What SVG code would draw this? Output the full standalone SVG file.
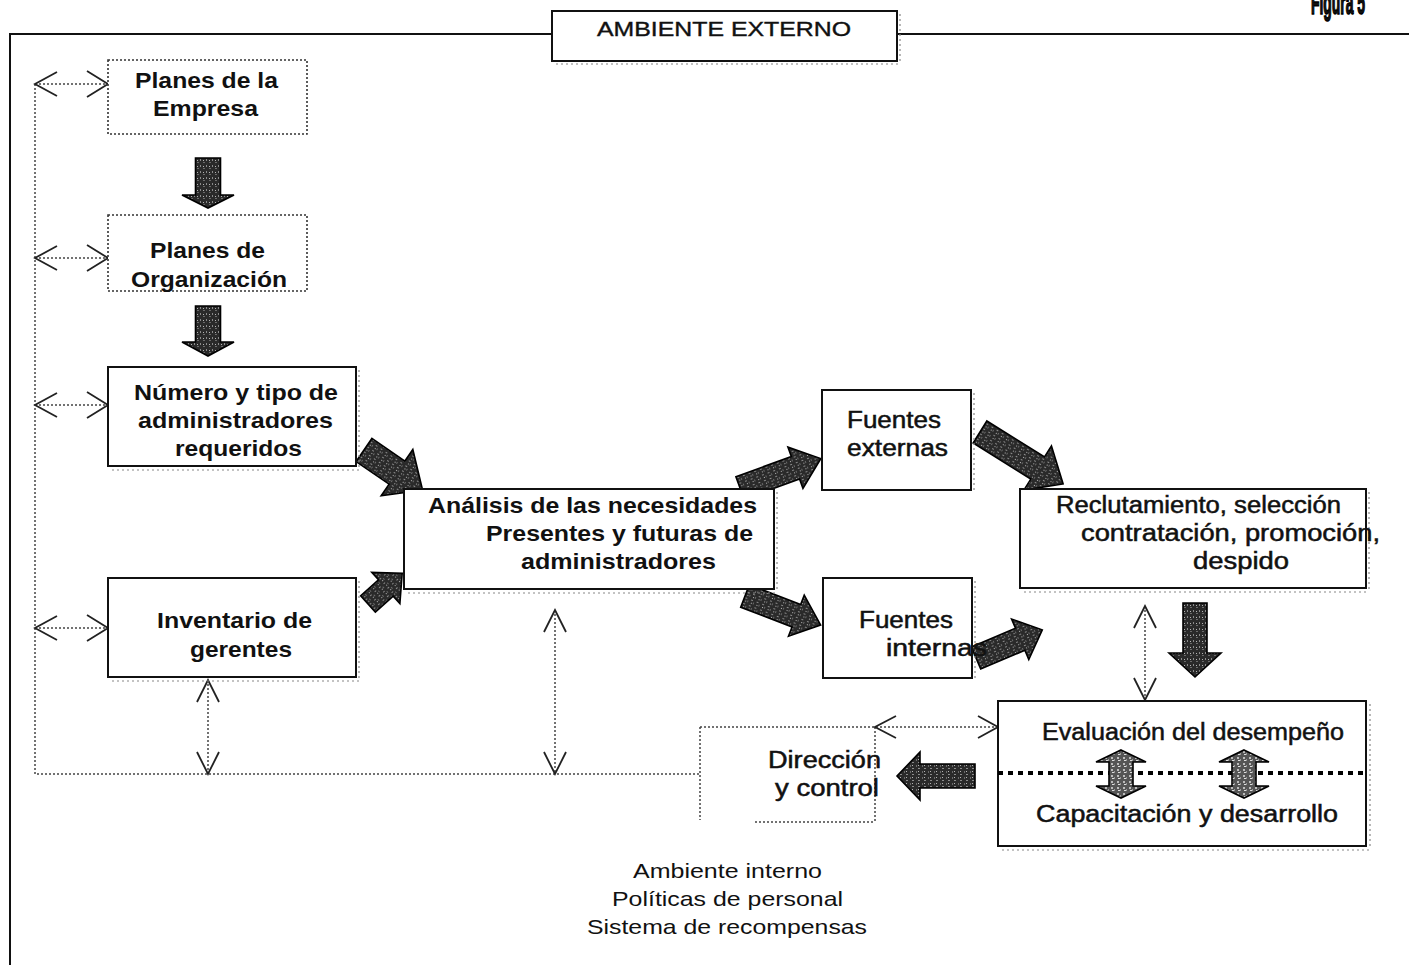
<svg xmlns="http://www.w3.org/2000/svg" width="1409" height="965" viewBox="0 0 1409 965">
  <style>
    .frame { fill: none; stroke: #111; stroke-width: 2; }
    .box { fill: #fff; stroke: #111; stroke-width: 2; }
    .dbox { fill: #fff; stroke: #333; stroke-width: 1.6; stroke-dasharray: 2 2; }
    .shade { fill: none; stroke: #888; stroke-width: 1.2; stroke-dasharray: 2 3; }
    .dot { fill: none; stroke: #444; stroke-width: 1.5; stroke-dasharray: 2 2; }
    .chev { fill: none; stroke: #222; stroke-width: 1.8; stroke-linejoin: miter; }
    .fat { fill: url(#grain); stroke: #000; stroke-width: 1.6; stroke-linejoin: miter; }
    .fat2 { fill: url(#grain2); stroke: #000; stroke-width: 1.6; stroke-linejoin: miter; }
    .sep { fill: none; stroke: #000; stroke-width: 4; stroke-dasharray: 5 5; }
    text { font-family: "Liberation Sans", Arial, sans-serif; fill: #111; }
    .b { font-size: 22px; font-weight: bold; }
    .r { font-size: 23px; font-weight: normal; stroke: #111; stroke-width: 0.5; }
    .s { font-size: 21px; font-weight: normal; }
    .hd { stroke: #111; stroke-width: 0.4; }
    .fig { font-size: 34px; font-weight: bold; stroke: #000; stroke-width: 1.6; }
  </style>
  <defs>
    <!-- mottled dark fill used for the block arrows -->
    <pattern id="grain" width="6" height="6" patternUnits="userSpaceOnUse">
      <rect width="6" height="6" fill="#2a2a2a"/>
      <rect x="1" y="1" width="2" height="1" fill="#8a8a8a"/>
      <rect x="4" y="3" width="1" height="2" fill="#6a6a6a"/>
      <rect x="2" y="4" width="1" height="1" fill="#b5b5b5"/>
    </pattern>
    <pattern id="grain2" width="6" height="6" patternUnits="userSpaceOnUse">
      <rect width="6" height="6" fill="#555"/>
      <rect x="1" y="1" width="2" height="2" fill="#bbb"/>
      <rect x="4" y="3" width="1" height="2" fill="#999"/>
      <rect x="2" y="4" width="2" height="1" fill="#ddd"/>
    </pattern>
  </defs>

  <rect width="1409" height="965" fill="#fff"/>

  <!-- outer frame of the external environment -->
  <g id="frame">
    <path class="frame" d="M10,965 V34 H552 M897,34 H1409"/>
  </g>

  <g id="figura">
    <text class="fig" x="1311" y="14" textLength="54" lengthAdjust="spacingAndGlyphs">Figura 5</text>
  </g>

  <g id="ambiente-externo">
    <path class="shade" d="M900,14 V63 M556,64 H900"/>
    <rect class="box" x="552" y="11" width="345" height="50"/>
    <text class="s hd" x="597" y="36" textLength="254" lengthAdjust="spacingAndGlyphs">AMBIENTE EXTERNO</text>
  </g>

  <!-- dotted feedback connectors -->
  <g id="connectors">
    <path class="dot" d="M35,84 V774 H700 M700,727 V820 M700,727 H998 M875,727 V822 M755,822 H875"/>
    <path class="dot" d="M35,84 H108 M35,258 H108 M35,405 H108 M35,628 H108"/>
    <path class="dot" d="M208,680 V774 M555,610 V774 M1145,606 V700"/>
    <!-- chevron heads -->
    <path class="chev" d="M57,72 L35,84 L57,96 M87,71 L108,84 L87,97"/>
    <path class="chev" d="M57,246 L35,258 L57,270 M87,245 L108,258 L87,271"/>
    <path class="chev" d="M57,393 L35,405 L57,417 M87,392 L108,405 L87,418"/>
    <path class="chev" d="M57,616 L35,628 L57,640 M87,615 L108,628 L87,641"/>
    <path class="chev" d="M197,702 L208,680 L219,702 M197,752 L208,774 L219,752"/>
    <path class="chev" d="M544,632 L555,610 L566,632 M544,752 L555,774 L566,752"/>
    <path class="chev" d="M1134,628 L1145,606 L1156,628 M1134,678 L1145,700 L1156,678"/>
    <path class="chev" d="M896,716 L875,727 L896,738 M978,716 L998,727 L978,738"/>

    <!-- block arrows -->
    <path class="fat" transform="translate(208,158) rotate(90)" d="M0,-12.5 H37 V-26 L50,0 L37,26 V12.5 H0 Z"/>
    <path class="fat" transform="translate(208,306) rotate(90)" d="M0,-12.5 H36 V-26 L50,0 L36,26 V12.5 H0 Z"/>
    <path class="fat" transform="translate(364,450) rotate(34.4)" d="M0,-14 H40 V-28 L71,0 L40,28 V14 H0 Z"/>
    <path class="fat" transform="translate(368,604) rotate(-42)" d="M0,-11 H24 V-21 L46,0 L24,21 V11 H0 Z"/>
    <path class="fat" transform="translate(740,488) rotate(-20)" d="M0,-12 H59 V-22 L86,0 L59,22 V12 H0 Z"/>
    <path class="fat" transform="translate(745,596) rotate(21)" d="M0,-12 H55 V-22 L81,0 L55,22 V12 H0 Z"/>
    <path class="fat" transform="translate(980,432) rotate(32)" d="M0,-13 H68 V-26 L98,0 L68,26 V13 H0 Z"/>
    <path class="fat" transform="translate(976,658) rotate(-23)" d="M0,-12 H48 V-22 L72,0 L48,22 V12 H0 Z"/>
    <path class="fat" transform="translate(1195,603) rotate(90)" d="M0,-12 H50 V-26 L74,0 L50,26 V12 H0 Z"/>
    <path class="fat" transform="translate(975,776) rotate(180)" d="M0,-12 H55 V-24 L78,0 L55,24 V12 H0 Z"/>
  </g>

  <g id="planes-empresa">
    <rect class="dbox" x="108" y="60" width="199" height="74"/>
    <text class="b" x="135" y="88" textLength="143" lengthAdjust="spacingAndGlyphs">Planes de la</text>
    <text class="b" x="153" y="116" textLength="105" lengthAdjust="spacingAndGlyphs">Empresa</text>
  </g>

  <g id="planes-organizacion">
    <rect class="dbox" x="108" y="215" width="199" height="76"/>
    <text class="b" x="150" y="258" textLength="115" lengthAdjust="spacingAndGlyphs">Planes de</text>
    <text class="b" x="131" y="287" textLength="156" lengthAdjust="spacingAndGlyphs">Organización</text>
  </g>

  <g id="numero-tipo">
    <path class="shade" d="M359,370 V470 M112,470 H359"/>
    <rect class="box" x="108" y="367" width="248" height="99"/>
    <text class="b" x="134" y="400" textLength="204" lengthAdjust="spacingAndGlyphs">Número y tipo de</text>
    <text class="b" x="138" y="428" textLength="195" lengthAdjust="spacingAndGlyphs">administradores</text>
    <text class="b" x="175" y="456" textLength="127" lengthAdjust="spacingAndGlyphs">requeridos</text>
  </g>

  <g id="inventario">
    <path class="shade" d="M359,581 V681 M112,681 H359"/>
    <rect class="box" x="108" y="578" width="248" height="99"/>
    <text class="b" x="157" y="628" textLength="155" lengthAdjust="spacingAndGlyphs">Inventario de</text>
    <text class="b" x="190" y="657" textLength="102" lengthAdjust="spacingAndGlyphs">gerentes</text>
  </g>

  <g id="analisis">
    <path class="shade" d="M777,492 V592 M408,593 H777"/>
    <rect class="box" x="404" y="489" width="370" height="100"/>
    <text class="b" x="428" y="513" textLength="329" lengthAdjust="spacingAndGlyphs">Análisis de las necesidades</text>
    <text class="b" x="486" y="541" textLength="267" lengthAdjust="spacingAndGlyphs">Presentes y futuras de</text>
    <text class="b" x="521" y="569" textLength="195" lengthAdjust="spacingAndGlyphs">administradores</text>
  </g>

  <g id="fuentes-externas">
    <path class="shade" d="M974,393 V492"/>
    <rect class="box" x="822" y="390" width="149" height="100"/>
    <text class="r" x="847" y="428" textLength="94" lengthAdjust="spacingAndGlyphs">Fuentes</text>
    <text class="r" x="847" y="456" textLength="101" lengthAdjust="spacingAndGlyphs">externas</text>
  </g>

  <g id="fuentes-internas">
    <path class="shade" d="M975,581 V680"/>
    <rect class="box" x="823" y="578" width="149" height="100"/>
    <text class="r" x="859" y="628" textLength="94" lengthAdjust="spacingAndGlyphs">Fuentes</text>
    <text class="r" x="886" y="656" textLength="101" lengthAdjust="spacingAndGlyphs">internas</text>
  </g>

  <g id="reclutamiento">
    <path class="shade" d="M1369,492 V592 M1024,592 H1369"/>
    <rect class="box" x="1020" y="489" width="346" height="99"/>
    <text class="r" x="1056" y="513" textLength="285" lengthAdjust="spacingAndGlyphs">Reclutamiento, selección</text>
    <text class="r" x="1081" y="541" textLength="299" lengthAdjust="spacingAndGlyphs">contratación, promoción,</text>
    <text class="r" x="1193" y="569" textLength="96" lengthAdjust="spacingAndGlyphs">despido</text>
  </g>

  <g id="evaluacion">
    <path class="shade" d="M1370,704 V849 M1002,850 H1370"/>
    <rect class="box" x="998" y="701" width="368" height="145"/>
    <path class="sep" d="M998,773 H1367"/>
    <path class="fat2" d="M1121,750 L1146,762 H1133 V786 H1146 L1121,798 L1096,786 H1109 V762 H1096 Z"/>
    <path class="fat2" d="M1244,750 L1269,762 H1256 V786 H1269 L1244,798 L1219,786 H1232 V762 H1219 Z"/>
    <text class="r" x="1042" y="740" textLength="302" lengthAdjust="spacingAndGlyphs">Evaluación del desempeño</text>
    <text class="r" x="1036" y="822" textLength="302" lengthAdjust="spacingAndGlyphs">Capacitación y desarrollo</text>
  </g>

  <g id="direccion">
    <text class="r" x="768" y="768" textLength="113" lengthAdjust="spacingAndGlyphs">Dirección</text>
    <text class="r" x="775" y="796" textLength="104" lengthAdjust="spacingAndGlyphs">y control</text>
  </g>

  <g id="ambiente-interno">
    <text class="s" x="633" y="878" textLength="189" lengthAdjust="spacingAndGlyphs">Ambiente interno</text>
    <text class="s" x="612" y="906" textLength="231" lengthAdjust="spacingAndGlyphs">Políticas de personal</text>
    <text class="s" x="587" y="934" textLength="280" lengthAdjust="spacingAndGlyphs">Sistema de recompensas</text>
  </g>
</svg>
